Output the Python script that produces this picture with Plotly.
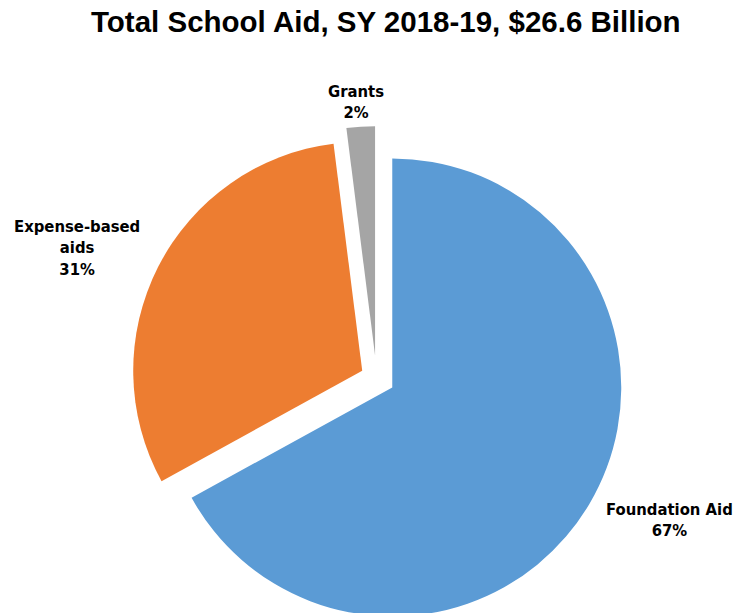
import plotly.graph_objects as go

categories = ["Foundation Aid", "Expense-based aids", "Grants"]
label_lines = ["Foundation Aid", "Expense-based<br>aids", "Grants"]
values = [67, 31, 2]
colors = ["#5B9BD5", "#ED7D31", "#A5A5A5"]
pulls = [0.08, 0.07, 0.1]

W, H = 733, 630  # window is 613 tall; pie runs slightly past the bottom edge as in the reference
r = 229
box = 2 * r * 1.1
cx = 376.5

fig = go.Figure(go.Pie(
    labels=categories,
    values=values,
    sort=False,
    direction="clockwise",
    rotation=0,
    pull=pulls,
    marker=dict(colors=colors, line=dict(width=0)),
    textinfo="none",
    hoverinfo="label+percent",
    showlegend=False,
    domain=dict(x=[(cx - box / 2) / W, (cx + box / 2) / W], y=[0, min(1, box / H)]),
))

label_font = dict(family="Liberation Sans Narrow, Arial Narrow, DejaVu Sans Condensed, sans-serif",
                  size=16.5, color="#000000")
label_pos = [(669, 520), (77, 248), (356, 102)]
total = sum(values)
for txt, v, (px, py) in zip(label_lines, values, label_pos):
    fig.add_annotation(
        x=px / W, y=1 - py / H, xref="paper", yref="paper",
        text="<b>%s<br>%d%%</b>" % (txt, round(100 * v / total)),
        showarrow=False, font=label_font, align="center",
        xanchor="center", yanchor="middle",
    )

fig.add_annotation(
    x=386 / W, y=1 - 22 / H, xref="paper", yref="paper",
    text="<b>Total School Aid, SY 2018-19, $26.6 Billion</b>",
    showarrow=False, xanchor="center", yanchor="middle",
    font=dict(family="Liberation Sans, Arial, sans-serif", size=29.5, color="#000000"),
)

fig.update_layout(
    width=W, height=H,
    margin=dict(l=0, r=0, t=0, b=0),
    paper_bgcolor="white", plot_bgcolor="white",
)

fig.write_html(
    "out.html",
    config={"displayModeBar": False},
    post_script="document.body.style.margin='0';document.body.style.overflow='hidden';"
                "document.documentElement.style.overflow='hidden';",
)
